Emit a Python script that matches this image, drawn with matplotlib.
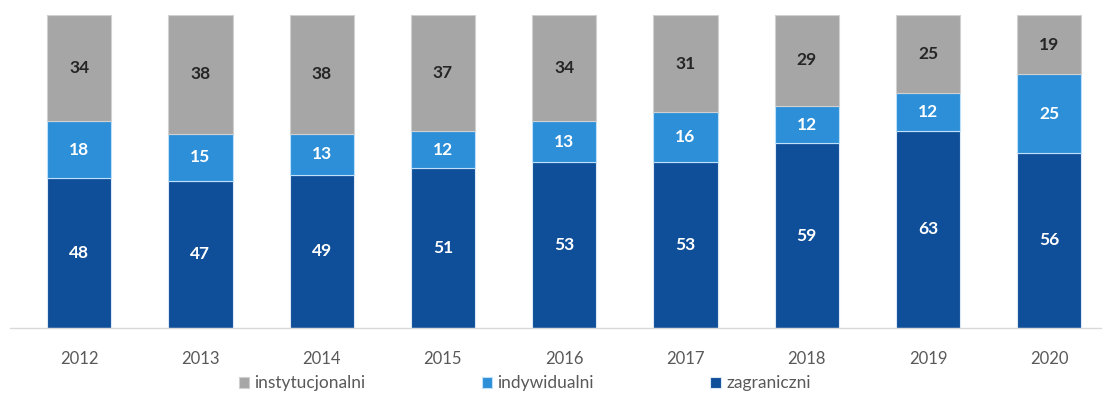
import numpy as np
import matplotlib
matplotlib.use("Agg")
import matplotlib.pyplot as plt

plt.rcParams['font.family'] = ['Lato', 'DejaVu Sans']

years = ['2012', '2013', '2014', '2015', '2016', '2017', '2018', '2019', '2020']
zagraniczni = [48, 47, 49, 51, 53, 53, 59, 63, 56]
indywidualni = [18, 15, 13, 12, 13, 16, 12, 12, 25]
instytucjonalni = [34, 38, 38, 37, 34, 31, 29, 25, 19]

c_dark = '#0F4E98'
c_light = '#2C8FD8'
c_gray = '#A6A6A6'
txt = '#595959'

fig = plt.figure(figsize=(11.07, 3.96), dpi=100)
ax = fig.add_axes([0.009, 0.172, 0.986, 0.79])

x = np.arange(len(years))
w = 0.53
zag = np.array(zagraniczni)
ind = np.array(indywidualni)
ins = np.array(instytucjonalni)

b1 = ax.bar(x, zag, w, color=c_dark, edgecolor='#dbe9f7', linewidth=0.8, label='zagraniczni')
b2 = ax.bar(x, ind, w, bottom=zag, color=c_light, edgecolor='#bfe0fa', linewidth=0.8, label='indywidualni')
b3 = ax.bar(x, ins, w, bottom=zag + ind, color=c_gray, edgecolor='#d0d0d0', linewidth=0.8, label='instytucjonalni')

for i in range(len(years)):
    ax.text(x[i], zag[i] / 2, str(zag[i]), ha='center', va='center',
            color='white', fontsize=12.5, fontweight='bold')
    ax.text(x[i], zag[i] + ind[i] / 2, str(ind[i]), ha='center', va='center',
            color='white', fontsize=12.5, fontweight='bold')
    ax.text(x[i], zag[i] + ind[i] + ins[i] / 2, str(ins[i]), ha='center', va='center',
            color='#262626', fontsize=12.5, fontweight='bold')

ax.set_xlim(-0.57, 8.43)
ax.set_ylim(0, 100)
ax.set_xticks(x)
ax.set_xticklabels(years, color=txt, fontsize=12)
ax.tick_params(axis='x', length=0, pad=17)
ax.set_yticks([])
for s in ['top', 'right', 'left']:
    ax.spines[s].set_visible(False)
ax.spines['bottom'].set_color('#d9d9d9')
ax.spines['bottom'].set_linewidth(1.0)

leg = fig.legend(handles=[b3, b2, b1], labels=['instytucjonalni', 'indywidualni', 'zagraniczni'],
                 loc='center', bbox_to_anchor=(0.474, 0.032), ncol=3, frameon=False,
                 fontsize=12.5, handlelength=0.6, handleheight=0.6, handletextpad=0.3,
                 columnspacing=6.7)
for t in leg.get_texts():
    t.set_color(txt)

fig.savefig('out.png', dpi=100)
